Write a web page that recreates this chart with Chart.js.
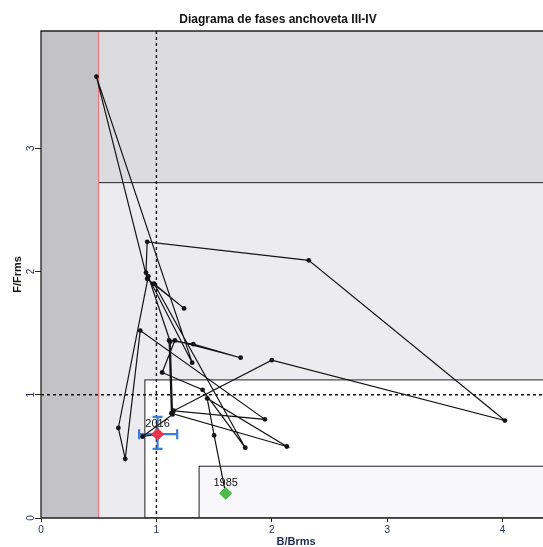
<!DOCTYPE html>
<html>
<head>
<meta charset="utf-8">
<script src="https://cdn.jsdelivr.net/npm/chart.js@4.4.1/dist/chart.umd.min.js"></script>
<style>
  html, body { margin: 0; padding: 0; background: #fff; }
  canvas { display: block; }
</style>
</head>
<body>
<canvas id="fases" width="543" height="547"></canvas>
<script>
/* Datos: trayectoria anual B/Brms vs F/Frms */
var anios = [1985, 1986, 1987, 1988, 1989, 1990, 1991, 1992, 1993, 1994, 1995,
             1996, 1997, 1998, 1999, 2000, 2001, 2002, 2003, 2004, 2005, 2006,
             2007, 2008, 2009, 2010, 2011, 2012, 2013, 2014, 2015, 2016];
var bBrms = [1.60, 1.50, 1.44, 2.13, 1.13, 1.11, 1.32, 1.73, 1.16, 1.05, 1.40,
             1.77, 0.98, 1.24, 0.92, 0.48, 1.31, 0.91, 0.92, 2.32, 4.02, 2.00,
             1.15, 1.94, 0.86, 0.73, 0.67, 0.93, 1.12, 1.14, 0.88, 1.01];
var fFrms = [0.20, 0.67, 0.97, 0.58, 0.85, 1.44, 1.41, 1.30, 1.44, 1.18, 1.04,
             0.57, 1.90, 1.70, 1.94, 3.58, 1.26, 1.99, 2.24, 2.09, 0.79, 1.28,
             0.87, 0.80, 1.52, 0.48, 0.73, 1.96, 1.43, 0.84, 0.66, 0.68];

/* Intervalo del último año */
var errorB = [0.85, 1.18];
var errorF = [0.56, 0.82];

/* Puntos de referencia y zonas */
var bLim = 0.5;          // B limite
var bRef = 1;            // B/Brms = 1
var fRef = 1;            // F/Frms = 1
var fZonaAlta = 2.72;
var bCaja = [0.90, 1.37];
var fCaja = [1.12, 0.42];

var ticksX = [0, 1, 2, 3, 4];
var ticksY = [0, 1, 2, 3];
var rangoX = [0, 4.35];
var rangoY = [0, 3.95];

var puntos = anios.map(function (a, i) { return { x: bBrms[i], y: fFrms[i] }; });
var ultimo = puntos.length - 1;

var fuente = '"Liberation Sans", Arial, sans-serif';

/* Fondo con zonas */
var zonas = {
  id: 'zonas',
  beforeDatasetsDraw: function (chart) {
    var c = chart.ctx, a = chart.chartArea;
    var sx = chart.scales.x, sy = chart.scales.y;
    var px = function (v) { return sx.getPixelForValue(v); };
    var py = function (v) { return sy.getPixelForValue(v); };
    c.save();
    c.beginPath(); c.rect(a.left, a.top, a.right - a.left, a.bottom - a.top); c.clip();

    c.fillStyle = '#c3c2c7';
    c.fillRect(a.left, a.top, px(bLim) - a.left, a.bottom - a.top);
    c.fillStyle = '#dcdbe0';
    c.fillRect(px(bLim), a.top, a.right - px(bLim), py(fZonaAlta) - a.top);
    c.fillStyle = '#ecebf0';
    c.fillRect(px(bLim), py(fZonaAlta), a.right - px(bLim), a.bottom - py(fZonaAlta));

    c.strokeStyle = '#222';
    c.lineWidth = 1;
    c.fillStyle = '#ffffff';
    c.fillRect(px(bCaja[0]), py(fCaja[0]), a.right - px(bCaja[0]), a.bottom - py(fCaja[0]));
    c.strokeRect(px(bCaja[0]), py(fCaja[0]), a.right - px(bCaja[0]) + 5, a.bottom - py(fCaja[0]));
    c.fillStyle = '#f8f8fa';
    c.fillRect(px(bCaja[1]), py(fCaja[1]), a.right - px(bCaja[1]), a.bottom - py(fCaja[1]));
    c.strokeRect(px(bCaja[1]), py(fCaja[1]), a.right - px(bCaja[1]) + 5, a.bottom - py(fCaja[1]));

    c.beginPath();
    c.moveTo(px(bLim), py(fZonaAlta)); c.lineTo(a.right, py(fZonaAlta));
    c.stroke();

    c.strokeStyle = '#e0686a';
    c.beginPath();
    c.moveTo(px(bLim), a.top); c.lineTo(px(bLim), a.bottom);
    c.stroke();

    c.strokeStyle = '#111';
    c.lineWidth = 1.4;
    c.setLineDash([3, 3]);
    c.beginPath();
    c.moveTo(px(bRef), a.top); c.lineTo(px(bRef), a.bottom);
    c.moveTo(a.left, py(fRef)); c.lineTo(a.right, py(fRef));
    c.stroke();
    c.setLineDash([]);

    /* barras de error */
    var xu = px(bBrms[ultimo]), yu = py(fFrms[ultimo]);
    c.strokeStyle = '#3b7fd6';
    c.lineWidth = 2.2;
    c.beginPath();
    c.moveTo(px(errorB[0]), yu); c.lineTo(px(errorB[1]), yu);
    c.moveTo(px(errorB[0]), yu - 5); c.lineTo(px(errorB[0]), yu + 5);
    c.moveTo(px(errorB[1]), yu - 5); c.lineTo(px(errorB[1]), yu + 5);
    c.moveTo(xu, py(errorF[0])); c.lineTo(xu, py(errorF[1]));
    c.moveTo(xu - 5, py(errorF[0])); c.lineTo(xu + 5, py(errorF[0]));
    c.moveTo(xu - 5, py(errorF[1])); c.lineTo(xu + 5, py(errorF[1]));
    c.stroke();
    c.restore();
  },
  afterDraw: function (chart) {
    var c = chart.ctx, a = chart.chartArea;
    var sx = chart.scales.x, sy = chart.scales.y;
    c.save();
    /* marco */
    c.strokeStyle = '#222';
    c.lineWidth = 1.3;
    c.beginPath();
    c.moveTo(a.right + 2, a.top); c.lineTo(a.left, a.top); c.lineTo(a.left, a.bottom); c.lineTo(a.right + 2, a.bottom);
    c.stroke();

    /* etiquetas de años */
    c.fillStyle = '#111';
    c.font = '11px ' + fuente;
    c.textAlign = 'center';
    c.textBaseline = 'middle';
    [0, ultimo].forEach(function (i) {
      c.fillText(String(anios[i]), sx.getPixelForValue(bBrms[i]), sy.getPixelForValue(fFrms[i]) - 10);
    });

    /* ticks de los ejes */
    c.font = '10px ' + fuente;
    c.fillStyle = '#1e2c55';
    ticksX.forEach(function (v) {
      c.fillText(String(v), sx.getPixelForValue(v), 530);
    });
    ticksY.forEach(function (v) {
      c.save();
      c.translate(31, sy.getPixelForValue(v));
      c.rotate(-Math.PI / 2);
      c.fillText(String(v), 0, 0);
      c.restore();
    });

    /* títulos */
    c.fillStyle = '#111';
    c.font = 'bold 12px ' + fuente;
    c.fillText('Diagrama de fases anchoveta III-IV', 278, 20);
    c.font = 'bold 11px ' + fuente;
    c.fillStyle = '#1e2c55';
    c.fillText('B/Brms', 296, 542);
    c.save();
    c.translate(18, (a.top + a.bottom) / 2);
    c.rotate(-Math.PI / 2);
    c.fillStyle = '#111';
    c.fillText('F/Frms', 0, 0);
    c.restore();
    c.restore();
  }
};

var faseChart = new Chart(document.getElementById('fases'), {
  type: 'scatter',
  data: {
    datasets: [{
      label: 'Trayectoria',
      data: puntos,
      showLine: true,
      borderColor: '#141414',
      backgroundColor: '#141414',
      borderWidth: 1.2,
      pointRadius: 2.4,
      pointBorderWidth: 0,
      order: 3
    }, {
      label: String(anios[0]),
      data: [puntos[0]],
      pointStyle: 'rectRot',
      pointRadius: 6,
      backgroundColor: '#4cb94a',
      borderColor: '#4cb94a',
      order: 1
    }, {
      label: String(anios[ultimo]),
      data: [puntos[ultimo]],
      pointStyle: 'rectRot',
      pointRadius: 6,
      backgroundColor: '#e8344a',
      borderColor: '#e8344a',
      order: 0
    }]
  },
  options: {
    responsive: false,
    animation: false,
    devicePixelRatio: 1,
    layout: { autoPadding: false, padding: { top: 31, right: 0, left: 0, bottom: 0 } },
    scales: {
      x: {
        type: 'linear',
        min: rangoX[0],
        max: rangoX[1],
        afterBuildTicks: function (s) { s.ticks = ticksX.map(function (v) { return { value: v }; }); },
        afterFit: function (s) { s.height = 29; },
        grid: { display: true, drawOnChartArea: false, drawTicks: true, tickLength: 4, color: '#222' },
        border: { display: false },
        ticks: { display: false }
      },
      y: {
        type: 'linear',
        min: rangoY[0],
        max: rangoY[1],
        afterBuildTicks: function (s) { s.ticks = ticksY.map(function (v) { return { value: v }; }); },
        afterFit: function (s) { s.width = 41; },
        grid: { display: true, drawOnChartArea: false, drawTicks: true, tickLength: 6, color: '#222' },
        border: { display: false },
        ticks: { display: false }
      }
    },
    plugins: {
      legend: { display: false },
      tooltip: { enabled: false },
      title: { display: false }
    }
  },
  plugins: [zonas]
});
</script>
</body>
</html>
